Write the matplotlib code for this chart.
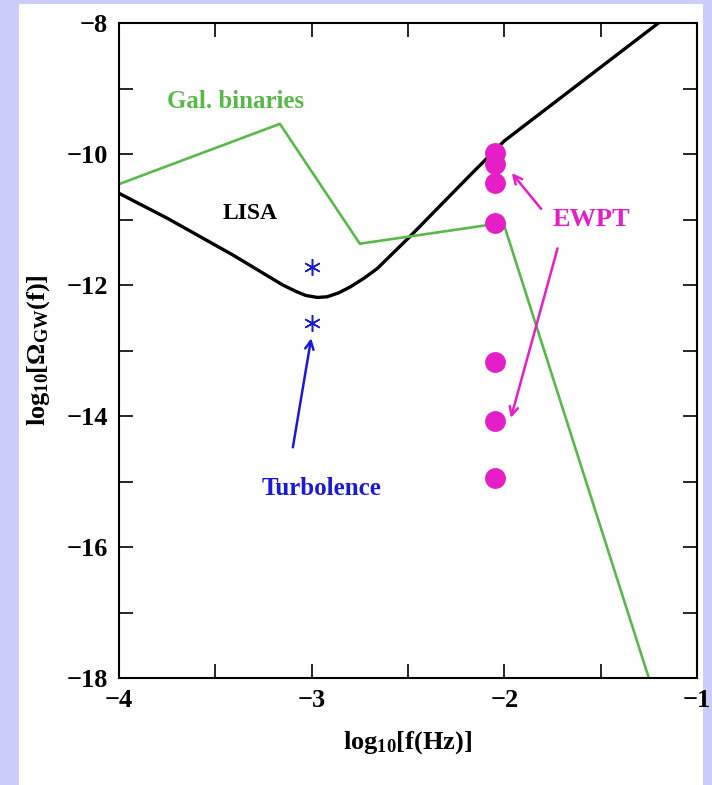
import matplotlib.pyplot as plt
from matplotlib.patches import Rectangle
from matplotlib.ticker import MultipleLocator

plt.rcParams['font.family'] = 'Liberation Serif'
plt.rcParams['font.weight'] = 'bold'
plt.rcParams['mathtext.fontset'] = 'custom'
plt.rcParams['mathtext.rm'] = 'Liberation Serif:bold'
plt.rcParams['mathtext.it'] = 'Liberation Serif:bold'
plt.rcParams['mathtext.bf'] = 'Liberation Serif:bold'

# LISA sensitivity curve
lisa_x = [-4.0, -3.75, -3.41, -3.15, -3.08, -3.03, -2.97, -2.92, -2.86, -2.80, -2.73, -2.66,
          -2.49, -2.37, -2.18, -2.0, -1.2]
lisa_y = [-10.6, -10.98, -11.54, -12.0, -12.1, -12.16, -12.19, -12.18, -12.12, -12.03, -11.9, -11.75,
          -11.26, -10.9, -10.33, -9.8, -8.0]

# galactic binaries foreground
gal_x = [-4.0, -3.165, -2.75, -2.005, -1.25]
gal_y = [-10.46, -9.54, -11.37, -11.05, -18.0]

# turbulence points
turb_x = [-3.0, -3.0]
turb_y = [-11.72, -12.58]

# EWPT points
ewpt_x = [-2.05] * 7
ewpt_y = [-9.98, -10.15, -10.45, -11.06, -13.18, -14.07, -14.95]

green = '#58b84a'
magenta = '#e61ec8'
blue = '#1a1ad6'

fig = plt.figure(figsize=(7.12, 7.85), dpi=100, facecolor='#ccccfa')
fig.patches.append(Rectangle((19 / 712, 0), (703 - 19) / 712, 1 - 4 / 785,
                             transform=fig.transFigure, facecolor='white',
                             edgecolor='none', zorder=0))
ax = fig.add_axes([119 / 712, 1 - 678 / 785, (697 - 119) / 712, (678 - 23) / 785])
ax.set_zorder(2)

ax.plot(lisa_x, lisa_y, color='black', lw=2.4)
ax.plot(gal_x, gal_y, color=green, lw=1.9)
ax.plot(turb_x, turb_y, ls='none', marker=(6, 2, 0), ms=12, mew=1.1, color=blue)
ax.plot(ewpt_x, ewpt_y, ls='none', marker='o', ms=14, color=magenta)

ax.text(-3.75, -9.2, 'Gal. binaries', color=green, fontsize=18, va='center')
ax.text(-3.32, -10.91, 'LISA', color='black', fontsize=17, ha='center', va='center')
ax.text(-2.95, -15.1, 'Turbolence', color=blue, fontsize=18, ha='center', va='center')
ax.text(-1.55, -11.0, 'EWPT', color=magenta, fontsize=19, ha='center', va='center')

ax.annotate('', xy=(-3.0, -12.77), xytext=(-3.10, -14.52),
            arrowprops=dict(arrowstyle='->', color=blue, lw=1.8, mutation_scale=15))
ax.annotate('', xy=(-1.97, -10.26), xytext=(-1.80, -10.87),
            arrowprops=dict(arrowstyle='->', color=magenta, lw=1.8, mutation_scale=15))
ax.annotate('', xy=(-1.97, -14.07), xytext=(-1.72, -11.40),
            arrowprops=dict(arrowstyle='->', color=magenta, lw=1.8, mutation_scale=15))

ax.set_xlim(-4, -1)
ax.set_ylim(-18, -8)
ax.xaxis.set_major_locator(MultipleLocator(1))
ax.xaxis.set_minor_locator(MultipleLocator(0.5))
ax.yaxis.set_major_locator(MultipleLocator(2))
ax.yaxis.set_minor_locator(MultipleLocator(1))
ax.tick_params(which='both', direction='in', top=True, right=True, width=1.2, labelsize=19, pad=8)
ax.tick_params(which='major', length=10)
ax.tick_params(which='minor', length=10)
for s in ax.spines.values():
    s.set_linewidth(1.5)

ax.set_xlabel(r'log$_{10}$[f(Hz)]', fontsize=19, fontweight='bold', labelpad=12)
ax.set_ylabel(r'log$_{10}$[$\Omega_{GW}$(f)]', fontsize=19, fontweight='bold', labelpad=10)

fig.savefig('out.png', dpi=100, facecolor=fig.get_facecolor())
